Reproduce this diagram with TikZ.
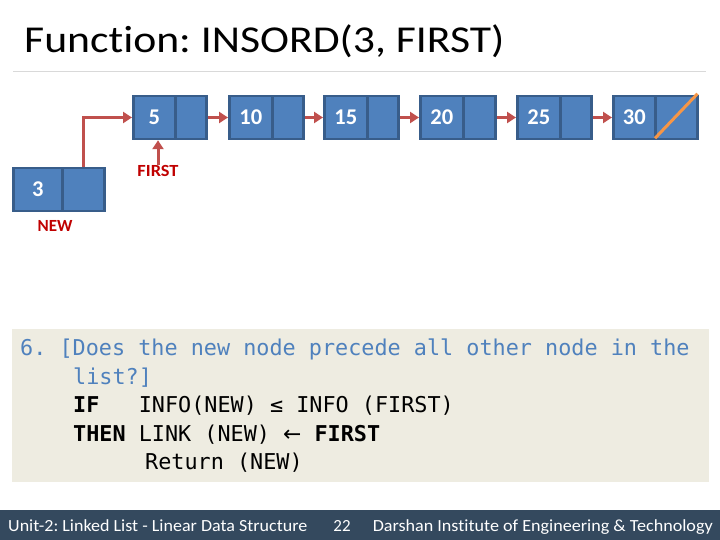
\documentclass[tikz,border=0pt]{standalone}
\usepackage{fontspec}
\setmainfont{Carlito}[Ligatures={NoCommon}]
\newfontfamily\codefont{DejaVu Sans Mono}
\usetikzlibrary{arrows.meta,calc}
\frenchspacing
\definecolor{nodefill}{HTML}{4F81BD}
\definecolor{nodeborder}{HTML}{385D8A}
\definecolor{linkred}{HTML}{C0504D}
\definecolor{labelred}{HTML}{C00000}
\definecolor{nullorange}{HTML}{F79646}
\definecolor{codebg}{HTML}{EEECE1}
\definecolor{codeblue}{HTML}{4F81BD}
\definecolor{footbg}{HTML}{34495E}
\definecolor{rulegray}{HTML}{D9D9D9}
\tikzset{
  cell/.style={draw=nodeborder, fill=nodefill, line width=2.5pt, minimum height=43pt,
    inner sep=0pt, text=white, font=\bfseries\fontsize{22.5}{26}\selectfont, anchor=west},
  ptr/.style={draw=linkred, line width=3pt, -{Triangle[length=9pt,width=11pt]}},
  redlabel/.style={text=labelred, font=\bfseries\fontsize{17}{20}\selectfont, inner sep=0pt},
  codeline/.style={anchor=base west, inner sep=0pt, font=\codefont\fontsize{21.8}{26}\selectfont},
  foottext/.style={text=white, font=\fontsize{17}{20}\selectfont, inner sep=0pt, anchor=base west}
}
\begin{document}
\frenchspacing
\begin{tikzpicture}[x=1pt,y=-1pt]
\useasboundingbox (0,0) rectangle (720,540);
\fill[white] (0,0) rectangle (720,540);
% title
\node[anchor=base west, inner sep=0pt, font=\fontsize{38}{44}\selectfont] (title) at (24,53) {\scalebox{1.15}[1]{\frenchspacing Function: INSORD(3, FIRST)}};
\draw[rulegray, line width=1pt] (13,72) -- (706,72);
% list nodes
\node[cell, minimum width=42pt] (d5) at (132,117.5) {5};
\node[cell, minimum width=31pt] (l5) at (174,117.5) {};
\node[cell, minimum width=43pt] (d10) at (228,117.5) {10};
\node[cell, minimum width=31pt] (l10) at (271,117.5) {};
\node[cell, minimum width=43pt] (d15) at (323,117.5) {15};
\node[cell, minimum width=31pt] (l15) at (366,117.5) {};
\node[cell, minimum width=43pt] (d20) at (419,117.5) {20};
\node[cell, minimum width=32pt] (l20) at (462,117.5) {};
\node[cell, minimum width=43pt] (d25) at (516,117.5) {25};
\node[cell, minimum width=31pt] (l25) at (559,117.5) {};
\node[cell, minimum width=42pt] (d30) at (612,117.5) {30};
\node[cell, minimum width=42pt] (l30) at (654,117.5) {};
\draw[nullorange, line width=3pt] ($(l30.south west)+(1,-2)$) -- ($(l30.north east)+(-1,-1)$);
% new node
\node[cell, minimum width=49pt] (d3) at (12,189.5) {3};
\node[cell, minimum width=42pt] (l3) at (61,189.5) {};
% links
\draw[ptr] (l5.east) -- (d10.west);
\draw[ptr] (l10.east) -- (d15.west);
\draw[ptr] (l15.east) -- (d20.west);
\draw[ptr] (l20.east) -- (d25.west);
\draw[ptr] (l25.east) -- (d30.west);
\draw[ptr] (l3.north) |- (d5.west);
% labels
\node[redlabel] (first) at (158,171) {\scalebox{1.08}[1]{FIRST}};
\node[redlabel] (new) at (55,226) {NEW};
\draw[ptr] (first.north) -- (first.north |- d5.south);
% code box
\fill[codebg] (12,329) rectangle (709,482);
\node[codeline, text=codeblue] (c1) at (20,355) {6. [Does the new node precede all other node in the};
\node[codeline, text=codeblue] (c2) at (73,384) {list?]};
\node[codeline] (c3) at (73,412) {\textbf{IF}\ \ \ INFO(NEW) ≤ INFO (FIRST)};
\node[codeline] (c4) at (73,441) {\textbf{THEN} LINK (NEW) {\fontspec{DejaVu Sans}←} \textbf{FIRST}};
\node[codeline] (c5) at (145,469) {Return (NEW)};
% footer
\fill[footbg] (0,510) rectangle (720,540);
\node[foottext] (f1) at (8,531) {\scalebox{1.06}[1]{Unit-2: Linked List - Linear Data Structure}};
\node[foottext, anchor=base] (f2) at (342,531) {22};
\node[foottext, anchor=base east] (f3) at (713,531) {\scalebox{1.065}[1]{Darshan Institute of Engineering \& Technology}};
\end{tikzpicture}
\end{document}
